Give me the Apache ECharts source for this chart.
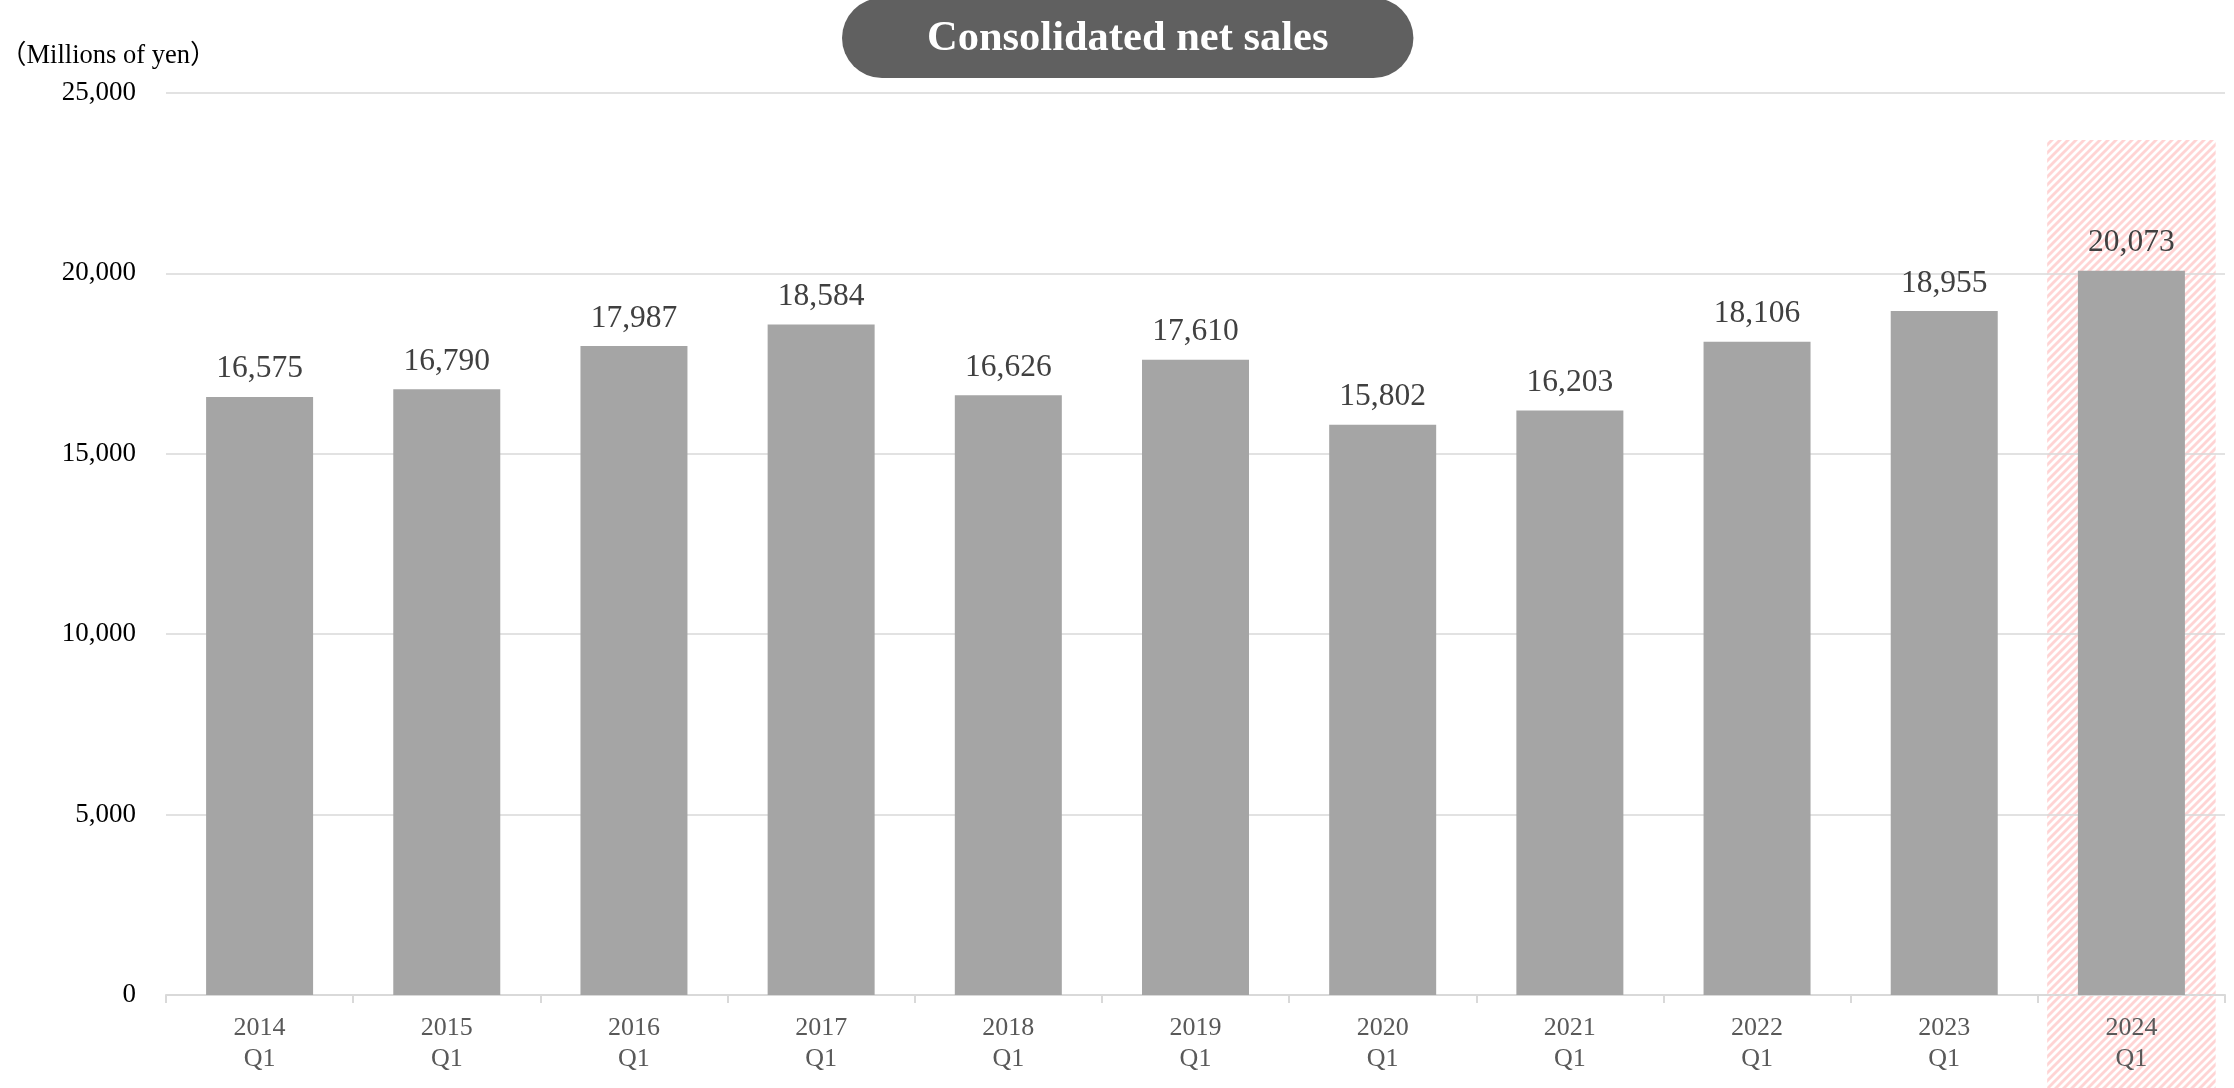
<!DOCTYPE html>
<html>
<head>
<meta charset="utf-8">
<title>Consolidated net sales</title>
<script src="https://cdn.jsdelivr.net/npm/echarts@6/dist/echarts.min.js"></script>
<style>
  html, body { margin: 0; padding: 0; background: #ffffff; }
  #chart { width: 2234px; height: 1088px; }
</style>
</head>
<body>
<div id="chart"></div>
<script>
// Fiscal periods (first quarter of each year)
const years = ['2014', '2015', '2016', '2017', '2018', '2019', '2020', '2021', '2022', '2023', '2024'];
const quarters = ['Q1', 'Q1', 'Q1', 'Q1', 'Q1', 'Q1', 'Q1', 'Q1', 'Q1', 'Q1', 'Q1'];
// Consolidated net sales, millions of yen
const netSales = [16575, 16790, 17987, 18584, 16626, 17610, 15802, 16203, 18106, 18955, 20073];
// Value axis ticks
const yTicks = [0, 5000, 10000, 15000, 20000, 25000];
// Period highlighted with the hatched band
const highlightIndex = 10;
const highlightTopValue = 23700;

const categories = years.map((y, i) => y + '\n' + quarters[i]);
const fmt = v => Number(v).toLocaleString('en-US');
const SERIF = '"Liberation Serif", "Times New Roman", "Noto Sans CJK JP", serif';

const chart = echarts.init(document.getElementById('chart'), null, { renderer: 'canvas' });

// Diagonal pink stripe tile for the highlight band
function stripeTile() {
  const c = document.createElement('canvas');
  c.width = 8; c.height = 8;
  const g = c.getContext('2d');
  g.fillStyle = '#ffffff';
  g.fillRect(0, 0, 8, 8);
  g.strokeStyle = '#ffd4d4';
  g.lineWidth = 2.9;
  g.lineCap = 'square';
  [0, 8, 16].forEach(k => {
    g.beginPath();
    g.moveTo(-1, k + 1);
    g.lineTo(k + 1, -1);
    g.stroke();
  });
  return c;
}

chart.setOption({
  animation: false,
  backgroundColor: '#ffffff',
  title: [
    {
      text: 'Consolidated net sales',
      left: 842,
      top: -2,
      padding: [18, 85, 16, 85],
      backgroundColor: '#606060',
      borderRadius: 40,
      textStyle: {
        color: '#ffffff',
        fontFamily: SERIF,
        fontWeight: 'bold',
        fontSize: 42.5,
        lineHeight: 46
      }
    },
    {
      text: '（Millions of yen）',
      left: 0,
      top: 41,
      padding: 0,
      textStyle: {
        color: '#000000',
        fontFamily: SERIF,
        fontWeight: 'normal',
        fontSize: 26.5,
        lineHeight: 30
      }
    }
  ],
  grid: { left: 166, right: 9, top: 93, bottom: 93, containLabel: false },
  xAxis: {
    type: 'category',
    data: categories,
    boundaryGap: true,
    axisLine: { show: true, lineStyle: { color: '#d9d9d9', width: 2 } },
    axisTick: { show: true, length: 8, lineStyle: { color: '#d9d9d9', width: 2 } },
    axisLabel: {
      color: '#595959',
      fontFamily: SERIF,
      fontSize: 26,
      lineHeight: 31,
      margin: 18,
      interval: 0
    },
    splitLine: { show: false }
  },
  yAxis: {
    type: 'value',
    min: yTicks[0],
    max: yTicks[yTicks.length - 1],
    interval: yTicks[1] - yTicks[0],
    axisLine: { show: false },
    axisTick: { show: false },
    axisLabel: {
      color: '#000000',
      fontFamily: SERIF,
      fontSize: 27,
      margin: 30,
      formatter: v => fmt(v)
    },
    splitLine: { show: true, lineStyle: { color: '#d9d9d9', width: 1.5 } }
  },
  series: [
    {
      type: 'bar',
      data: netSales,
      barWidth: 107,
      itemStyle: { color: '#a5a5a5' },
      label: {
        show: true,
        position: 'top',
        distance: 12,
        color: '#404040',
        fontFamily: SERIF,
        fontSize: 31.5,
        formatter: p => fmt(p.value)
      },
      z: 2
    }
  ]
});

// Hatched band behind the highlighted period, sized from the category scale
function drawHighlight() {
  const c0 = chart.convertToPixel({ xAxisIndex: 0 }, 0);
  const c1 = chart.convertToPixel({ xAxisIndex: 0 }, 1);
  const band = c1 - c0;
  const cx = chart.convertToPixel({ xAxisIndex: 0 }, highlightIndex);
  const top = chart.convertToPixel({ yAxisIndex: 0 }, highlightTopValue);
  const w = band * 0.9;
  chart.setOption({
    graphic: [
      {
        type: 'rect',
        z: -1,
        silent: true,
        shape: { x: cx - w / 2, y: top, width: w, height: chart.getHeight() - top },
        style: { fill: { image: stripeTile(), repeat: 'repeat' } }
      }
    ]
  });
}
drawHighlight();
</script>
</body>
</html>
